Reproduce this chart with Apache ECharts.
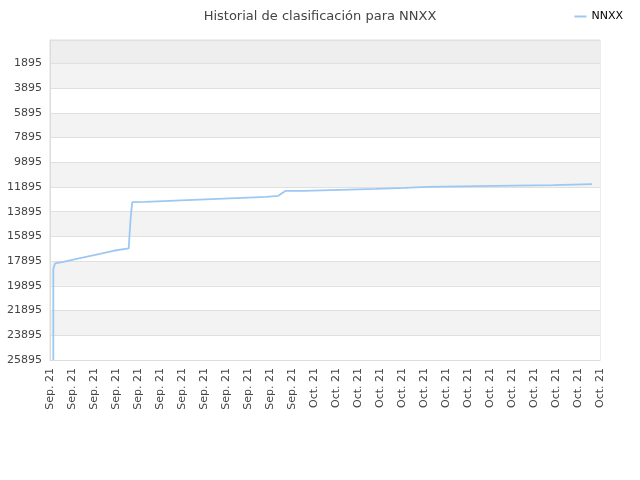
<!DOCTYPE html>
<html><head><meta charset="utf-8">
<script src="https://cdn.jsdelivr.net/npm/echarts@6/dist/echarts.min.js"></script>
<style>html,body{margin:0;padding:0;background:#fff}#c{width:640px;height:480px}</style>
</head><body><div id="c"></div>
<script>
var categories = ['Sep. 21','Sep. 21','Sep. 21','Sep. 21','Sep. 21','Sep. 21','Sep. 21','Sep. 21','Sep. 21','Sep. 21','Sep. 21','Sep. 21',
  'Oct. 21','Oct. 21','Oct. 21','Oct. 21','Oct. 21','Oct. 21','Oct. 21','Oct. 21','Oct. 21','Oct. 21','Oct. 21','Oct. 21','Oct. 21','Oct. 21'];
// position along the date axis (in category steps) and rank
var positions = [0.15,0.15,0.23,0.61,1.21,2.27,2.88,3.58,3.60,3.67,3.74,
  4.32,4.32,5.41,5.41,6.51,6.51,7.62,7.62,8.73,8.73,9.82,9.82,10.38,10.71,11.53,11.53,13.18,13.18,14.82,14.82,16.14,16.14,17.14,17.14,19.36,19.36,22.86,22.86,24.64];
var ranks = [25895,18536,18075,17946,17703,17298,17055,16861,16190,14304,13116,
  13092,13011,13011,12930,12930,12849,12849,12768,12768,12687,12687,12606,12606,12202,12202,12121,12121,12040,12040,11959,11959,11878,11878,11822,11822,11741,11741,11660,11660];
var rankMax = 25895, rankMin = 1;

var chart = echarts.init(document.getElementById('c'));
var data = positions.map(function(p,i){ return [p, rankMax - ranks[i]]; });
var bands = [];
for (var i=0;i<12;i++) bands.push(i%2===0?'#ffffff':'#f3f3f3');
bands.push('#eeeeee');
chart.setOption({
  animation:false,
  textStyle:{fontFamily:'DejaVu Sans'},
  title:{text:'Historial de clasificación para NNXX',left:'center',top:5,
    textStyle:{fontSize:13,fontWeight:'normal',color:'#444',fontFamily:'DejaVu Sans'}},
  legend:{right:12,top:6,itemWidth:12,itemHeight:2,icon:'rect',
    textStyle:{fontSize:11,color:'#000',fontFamily:'DejaVu Sans'},data:['NNXX']},
  grid:{left:50,right:40,top:40,bottom:120,show:true,borderColor:'#dcdcdc',borderWidth:1},
  xAxis:{type:'value',min:0,max:categories.length-1,interval:1,
    axisLine:{show:true,lineStyle:{color:'#dcdcdc'}},axisTick:{show:false},splitLine:{show:false},
    axisLabel:{rotate:90,fontSize:11,color:'#444',margin:8,formatter:function(v){return categories[Math.round(v)]||'';}}},
  yAxis:{type:'value',min:0,max:rankMax-rankMin,interval:2000,
    axisLine:{show:true,lineStyle:{color:'#dcdcdc'}},axisTick:{show:false},
    splitLine:{show:true,lineStyle:{color:'#e0e0e0'}},
    splitArea:{show:true,areaStyle:{color:bands}},
    axisLabel:{fontSize:11,color:'#444',margin:8,showMaxLabel:false,formatter:function(v){ if(v>rankMax-rankMin-1) return ''; return String(rankMax - v);}}},
  series:[{name:'NNXX',type:'line',data:data,showSymbol:false,symbol:'none',
    lineStyle:{color:'#9ec8f4',width:1.8},itemStyle:{color:'#9ec8f4'}}]
});
</script></body></html>
